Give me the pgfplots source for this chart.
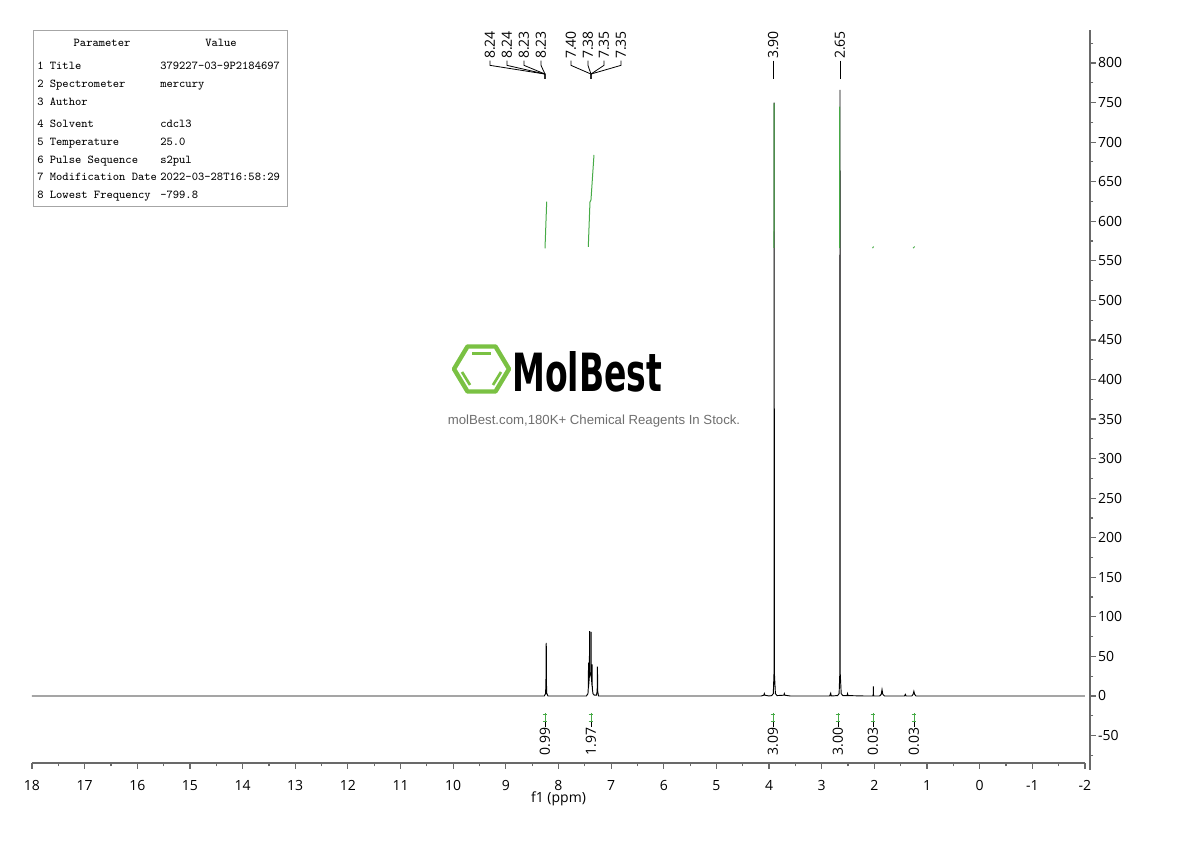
\documentclass[border=0pt]{standalone}
\usepackage{pgfplots}
\pgfplotsset{compat=1.18}
\usepackage{pgfplotstable}
\usepackage{graphicx}
\usepackage{fontspec}
\setmainfont{Open Sans}
\newfontfamily\wmfont{Liberation Sans}
\newfontfamily\logofont{DejaVu Sans}
\definecolor{intgreen}{RGB}{70,170,70}
\definecolor{logogreen}{RGB}{122,193,67}
\definecolor{axgray}{RGB}{105,105,105}
\definecolor{wmgray}{RGB}{110,110,110}

\pgfplotstableread{
x y
18 0
8.27 0
8.245 3
8.238 18
8.236 66
8.234 40
8.232 67
8.230 18
8.222 3
8.20 0
7.47 0
7.44 3
7.432 12
7.430 42
7.428 12
7.413 25
7.410 82
7.407 30
7.383 25
7.380 81
7.377 25
7.362 12
7.360 40
7.358 10
7.345 3
7.32 1
7.28 1
7.265 6
7.260 37
7.255 6
7.24 0
4.15 0
4.10 1
4.09 3
4.08 1
4.00 0
3.95 0.5
3.92 3
3.906 30
3.903 750
3.900 30
3.88 3
3.85 0.5
3.72 1
3.71 3
3.70 1
3.60 0
2.85 0
2.83 3.5
2.82 0
2.70 0.5
2.67 3
2.656 30
2.653 766
2.650 30
2.63 3
2.60 0.5
2.52 0.5
2.51 3
2.50 0.5
2.20 0
2.03 0
2.022 2
2.020 12
2.018 2
2.01 0
1.90 0
1.87 2
1.855 8
1.84 2
1.81 0
1.43 0
1.41 2
1.40 0
1.29 0
1.265 2
1.25 6
1.235 2
1.21 0
-2 0
}\spec

\begin{document}
\begin{tikzpicture}
\useasboundingbox (0,0) rectangle (892.5pt,630.75pt);

% ---------- main axis (x axis + spectrum) ----------
\begin{axis}[
  at={(24pt,58.5pt)}, anchor=south west,
  scale only axis, width=789.75pt, height=549.75pt,
  xmin=-2, xmax=18, x dir=reverse,
  ymin=-84.68, ymax=841.7,
  axis x line=bottom, hide y axis,
  x axis line style={-, draw=axgray, line width=1.1pt},
  xtick={-2,-1,...,18}, minor x tick num=1,
  tick align=outside,
  major tick length=4.5pt, minor tick length=2.6pt,
  every tick/.style={axgray, line width=0.9pt},
  /pgf/number format/assume math mode=true,
  xticklabel style={font=\fontsize{10.5}{12}\selectfont, text=black, yshift=-5pt},
  xlabel={f1 (ppm)},
  xlabel style={font=\fontsize{10.5}{12}\selectfont, at={(axis description cs:0.5,0)}, anchor=north, inner sep=0pt, yshift=-21.4pt},
  clip=false,
]
\addplot[black, line width=0.7pt] table[x=x,y=y] {\spec};

% integral curves (green)
\addplot[intgreen, line width=0.75pt] coordinates {(8.256,565.8) (8.224,624.7)};
\addplot[intgreen, line width=0.75pt] coordinates {(7.434,567.5) (7.402,624.3) (7.383,626.9) (7.326,683.7)};
\addplot[intgreen, line width=0.75pt] coordinates {(3.907,566.2) (3.905,749)};
\addplot[intgreen, line width=0.75pt] coordinates {(2.662,566.0) (2.660,744.8)};
\addplot[intgreen, line width=0.75pt] coordinates {(2.035,566) (2.015,568)};
\addplot[intgreen, line width=0.75pt] coordinates {(1.265,566) (1.235,568)};

% peak labels (top)
\foreach \xl/\t in {9.301/8.24, 8.978/8.24, 8.655/8.23, 8.332/8.23}{
  \edef\tmp{\noexpand\node[rotate=90, anchor=west, inner sep=0pt, font=\noexpand\fontsize{10.5}{12}\noexpand\selectfont] at (axis cs:\xl,805) {\t};
  \noexpand\draw[black, line width=0.6pt] (axis cs:\xl,803) -- (axis cs:\xl,797) -- (axis cs:8.256,786) -- (axis cs:8.256,780);}
  \tmp
}
\foreach \xl/\t in {7.763/7.40, 7.440/7.38, 7.136/7.35, 6.813/7.35}{
  \edef\tmp{\noexpand\node[rotate=90, anchor=west, inner sep=0pt, font=\noexpand\fontsize{10.5}{12}\noexpand\selectfont] at (axis cs:\xl,805) {\t};
  \noexpand\draw[black, line width=0.6pt] (axis cs:\xl,803) -- (axis cs:\xl,797) -- (axis cs:7.383,786) -- (axis cs:7.383,780);}
  \tmp
}
\node[rotate=90, anchor=west, inner sep=0pt, font=\fontsize{10.5}{12}\selectfont] at (axis cs:3.925,805) {3.90};
\draw[black, line width=0.6pt] (axis cs:3.925,803) -- (axis cs:3.925,780);
\node[rotate=90, anchor=west, inner sep=0pt, font=\fontsize{10.5}{12}\selectfont] at (axis cs:2.653,805) {2.65};
\draw[black, line width=0.6pt] (axis cs:2.653,803) -- (axis cs:2.653,780);

% integral labels (bottom)
\foreach \xi/\t in {8.256/0.99, 7.383/1.97, 3.926/3.09, 2.692/3.00, 2.027/0.03, 1.248/0.03}{
  \edef\tmp{\noexpand\draw[intgreen, line width=0.6pt] (axis cs:\xi,-21.5) -- (axis cs:\xi,-32.9);
  \noexpand\draw[intgreen, line width=0.6pt] (axis cs:\xi+0.045,-23) -- (axis cs:\xi-0.045,-23);
  \noexpand\draw[intgreen, line width=0.6pt] (axis cs:\xi+0.045,-31.5) -- (axis cs:\xi-0.045,-31.5);
  \noexpand\draw[black, line width=0.6pt] (axis cs:\xi,-33) -- (axis cs:\xi,-39);
  \noexpand\node[rotate=90, anchor=east, inner sep=0pt, font=\noexpand\fontsize{10.5}{12}\noexpand\selectfont] at (axis cs:\xi,-40) {\t};}
  \tmp
}
\end{axis}

% ---------- right y axis ----------
\begin{axis}[
  at={(750pt,53.25pt)}, anchor=south west,
  scale only axis, width=67.5pt, height=555pt,
  xmin=0, xmax=1, ymin=-93.52, ymax=841.7,
  axis y line=right, hide x axis,
  y axis line style={-, draw=axgray, line width=1.1pt},
  ytick={-50,0,...,800}, minor ytick={-75,-25,...,825},
  tick align=outside,
  major tick length=4.5pt, minor tick length=2.6pt,
  every tick/.style={axgray, line width=0.9pt},
  /pgf/number format/assume math mode=true,
  yticklabel style={font=\fontsize{10.5}{12}\selectfont, text=black, xshift=-2pt},
]
\addplot[draw=none] coordinates {(0.5,0)};
\end{axis}

% ---------- parameter table & watermark (pixel coordinates) ----------
\begin{scope}[shift={(0pt,630.75pt)}, x=0.75pt, y=-0.75pt]
\draw[black!35, line width=0.75pt] (33,31) rectangle (287,207);
\begin{scope}[every node/.style={inner sep=0pt, font=\ttfamily\fontsize{9}{11}\selectfont}]
\node[anchor=base] at (102,47) {Parameter};
\node[anchor=base] at (221,47) {Value};
\node[anchor=base west] at (37,69.5) {1 Title};
\node[anchor=base west] at (160,69.5) {379227-03-9P2184697};
\node[anchor=base west] at (37,87.5) {2 Spectrometer};
\node[anchor=base west] at (160,87.5) {mercury};
\node[anchor=base west] at (37,105.5) {3 Author};
\node[anchor=base west] at (37,127.5) {4 Solvent};
\node[anchor=base west] at (160,127.5) {cdcl3};
\node[anchor=base west] at (37,145.5) {5 Temperature};
\node[anchor=base west] at (160,145.5) {25.0};
\node[anchor=base west] at (37,163.5) {6 Pulse Sequence};
\node[anchor=base west] at (160,163.5) {s2pul};
\node[anchor=base west] at (37,180.5) {7 Modification Date};
\node[anchor=base west] at (160,180.5) {2022-03-28T16:58:29};
\node[anchor=base west] at (37,198.5) {8 Lowest Frequency};
\node[anchor=base west] at (160,198.5) {-799.8};
\end{scope}

% logo
\draw[logogreen, line width=3.3pt, line join=round] (454,369) -- (467.5,346.5) -- (495.5,346.5) -- (509,369) -- (495.5,391.5) -- (467.5,391.5) -- cycle;
\draw[logogreen, line width=2pt] (472,353.5) -- (491,353.5);
\draw[logogreen, line width=2pt] (462,372) -- (470,385);
\draw[logogreen, line width=2pt] (501,372) -- (493,385);
\node[anchor=south west, inner sep=0pt] at (512,393) {\resizebox{112.5pt}{30pt}{\logofont\bfseries MolBest}};
\node[inner sep=0pt, text=wmgray, font=\wmfont\fontsize{9.9}{12}\selectfont] at (594,421) {molBest.com,180K+ Chemical Reagents In Stock.};
\end{scope}
\end{tikzpicture}
\end{document}
